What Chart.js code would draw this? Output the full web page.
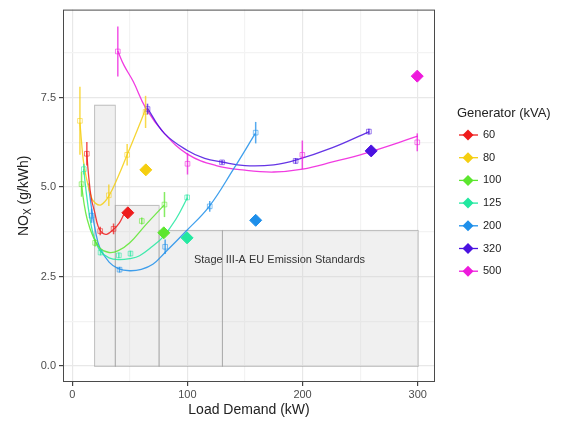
<!DOCTYPE html>
<html>
<head>
<meta charset="utf-8">
<script src="https://cdn.jsdelivr.net/npm/chart.js@4.4.1/dist/chart.umd.min.js"></script>
<style>
  html, body { margin: 0; padding: 0; background: #fff; }
</style>
</head>
<body>
<canvas id="nox-chart" width="570" height="421"></canvas>
<script>
// generators (kVA) and their colours
var generators = ["60", "80", "100", "125", "200", "320", "500"];
var colors = ["#EE1C1C", "#F5CE10", "#5CE62E", "#22E8A0", "#1E8FEA", "#4A12E0", "#EE1ADC"];

// measured points: load (kW), NOx (g/kWh), error half-width
var measLoad = [
  [12.7, 24.3, 35.9],
  [6.7, 31.8, 47.7, 63.7],
  [8.1, 19.9, 60.4, 80.1],
  [10.1, 24.6, 40.5, 50.6, 99.8],
  [16.8, 41.1, 80.7, 119.4, 159.3],
  [65.4, 130.1, 194, 257.6],
  [39.6, 100.1, 199.8, 299.6]
];
var measNox = [
  [5.93, 3.77, 3.83],
  [6.85, 4.77, 5.9, 7.1],
  [5.08, 3.44, 4.05, 4.51],
  [5.5, 3.17, 3.09, 3.14, 4.71],
  [4.2, 2.69, 3.33, 4.46, 6.52],
  [7.18, 5.69, 5.73, 6.55],
  [8.79, 5.65, 5.9, 6.25]
];
var measErr = [
  [0.33, 0.12, 0.15],
  [0.95, 0.3, 0.3, 0.45],
  [0.35, 0.1, 0.1, 0.35],
  [0.15, 0.08, 0.08, 0.08, 0.08],
  [0.2, 0.08, 0.2, 0.15, 0.3],
  [0.15, 0.06, 0.08, 0.08],
  [0.7, 0.3, 0.4, 0.25]
];

// fitted curves
var fitLoad = [
  [12.5, 14, 16.5, 19.5, 22.5, 26, 30, 36, 41, 45],
  [6.7, 8, 9.6, 12, 16.8, 20, 25, 31.8, 40, 47.7, 56, 64],
  [8, 10, 13, 17.9, 23.8, 32, 40, 50, 64, 80],
  [10, 12, 15, 19, 24.6, 32, 40, 50, 58.5, 70, 78.7, 90, 100],
  [14, 16.8, 20, 24, 32, 40, 50, 60, 70, 80, 99, 119, 140, 159],
  [65.4, 80, 100, 115, 130, 150, 175, 194, 226, 258],
  [39.6, 45, 53, 64, 80, 100, 125, 150, 175, 200, 226, 255, 300]
];
var fitNox = [
  [6.0, 5.4, 4.7, 4.3, 3.9, 3.72, 3.68, 3.82, 4.0, 4.25],
  [6.8, 6.3, 5.75, 5.3, 4.7, 4.55, 4.5, 4.75, 5.3, 5.9, 6.55, 7.2],
  [5.1, 4.6, 4.1, 3.63, 3.3, 3.17, 3.22, 3.44, 3.95, 4.5],
  [5.5, 4.9, 4.2, 3.6, 3.2, 3.02, 2.97, 3.0, 3.08, 3.35, 3.6, 4.1, 4.7],
  [5.1, 4.4, 3.8, 3.3, 2.9, 2.72, 2.66, 2.7, 2.84, 3.15, 3.77, 4.46, 5.5, 6.5],
  [7.2, 6.5, 6.02, 5.8, 5.7, 5.6, 5.62, 5.75, 6.1, 6.55],
  [8.8, 8.4, 7.95, 7.2, 6.5, 5.92, 5.6, 5.47, 5.42, 5.5, 5.7, 5.95, 6.42]
];

// rated-load points (filled diamonds)
var ratedLoad = [48.3, 63.9, 79.5, 99.7, 159.3, 259.6, 299.6];
var ratedNox = [4.28, 5.48, 3.72, 3.58, 4.07, 6.01, 8.1];

// Stage III-A limit boxes
var stdFrom = [19, 37, 75, 130];
var stdTo = [37, 75, 130, 300];
var stdLimit = [7.3, 4.5, 3.8, 3.8];
var stdLabel = "Stage III-A EU Emission Standards";

// axis ticks
var xGrid = [0, 50, 100, 150, 200, 250, 300];
var xLabels = [0, 100, 200, 300];
var yGrid = [0, 1.25, 2.5, 3.75, 5, 6.25, 7.5, 8.75];
var yLabels = [0, 2.5, 5, 7.5];

var FONT = "'Liberation Sans', Arial, sans-serif";

function fade(hex, a) {
  var n = parseInt(hex.slice(1), 16);
  return "rgba(" + (n >> 16) + "," + ((n >> 8) & 255) + "," + (n & 255) + "," + a + ")";
}

function zip(xs, ys) {
  return xs.map(function (x, i) { return { x: x, y: ys[i] }; });
}

var datasets = [];
generators.forEach(function (g, i) {
  datasets.push({
    type: "scatter",
    label: g,
    data: [{ x: ratedLoad[i], y: ratedNox[i] }],
    pointStyle: "rectRot",
    pointRadius: 6,
    backgroundColor: colors[i],
    borderColor: colors[i],
    borderWidth: 1,
    order: 0
  });
  datasets.push({
    type: "scatter",
    label: g + " measured",
    data: zip(measLoad[i], measNox[i]),
    pointStyle: "rect",
    pointRadius: 3.3,
    backgroundColor: "rgba(255,255,255,0)",
    borderColor: fade(colors[i], 0.55),
    borderWidth: 1,
    order: 1
  });
  datasets.push({
    type: "line",
    label: g + " fit",
    data: zip(fitLoad[i], fitNox[i]),
    borderColor: fade(colors[i], 0.85),
    borderWidth: 1.3,
    pointRadius: 0,
    tension: 0.4,
    fill: false,
    order: 2
  });
});

var standards = {
  id: "standards",
  beforeDatasetsDraw: function (chart) {
    var xs = chart.scales.x, ys = chart.scales.y, ctx = chart.ctx;
    ctx.save();
    ctx.fillStyle = "rgba(205,205,205,0.3)";
    ctx.strokeStyle = "rgba(150,150,150,0.55)";
    ctx.lineWidth = 1;
    stdLimit.forEach(function (lim, i) {
      var x0 = xs.getPixelForValue(stdFrom[i]), x1 = xs.getPixelForValue(stdTo[i]);
      var y0 = ys.getPixelForValue(0), y1 = ys.getPixelForValue(lim);
      ctx.fillRect(x0, y1, x1 - x0, y0 - y1);
      ctx.strokeRect(x0 + 0.5, y1 + 0.5, x1 - x0, y0 - y1);
    });
    ctx.fillStyle = "#333";
    ctx.font = "11px " + FONT;
    ctx.textAlign = "center";
    ctx.textBaseline = "middle";
    ctx.fillText(stdLabel, xs.getPixelForValue(180), ys.getPixelForValue(2.97));
    ctx.restore();
  }
};

var errorBars = {
  id: "errorBars",
  afterDatasetsDraw: function (chart) {
    var xs = chart.scales.x, ys = chart.scales.y, ctx = chart.ctx;
    ctx.save();
    ctx.lineWidth = 1.5;
    generators.forEach(function (g, i) {
      ctx.strokeStyle = fade(colors[i], 0.75);
      measLoad[i].forEach(function (x, j) {
        var px = xs.getPixelForValue(x);
        ctx.beginPath();
        ctx.moveTo(px, ys.getPixelForValue(measNox[i][j] - measErr[i][j]));
        ctx.lineTo(px, ys.getPixelForValue(measNox[i][j] + measErr[i][j]));
        ctx.stroke();
      });
    });
    // panel border
    var a = chart.chartArea;
    ctx.strokeStyle = "#4a4a4a";
    ctx.lineWidth = 1;
    ctx.strokeRect(a.left + 0.5, a.top + 0.5, a.right - a.left - 1, a.bottom - a.top - 1);
    ctx.restore();
  }
};

var frame = {
  id: "frame",
  afterDraw: function (chart) {
    var ctx = chart.ctx, a = chart.chartArea;
    ctx.save();
    ctx.fillStyle = "#222";
    // x title
    ctx.font = "14px " + FONT;
    ctx.textAlign = "center";
    ctx.textBaseline = "middle";
    ctx.fillText("Load Demand (kW)", (a.left + a.right) / 2, 410);
    // y title with subscript
    ctx.translate(24, (a.top + a.bottom) / 2);
    ctx.rotate(-Math.PI / 2);
    var t1 = "NO", t2 = "X", t3 = " (g/kWh)";
    ctx.font = "14px " + FONT;
    var w1 = ctx.measureText(t1).width, w3 = ctx.measureText(t3).width;
    ctx.font = "10px " + FONT;
    var w2 = ctx.measureText(t2).width;
    var sx = -(w1 + w2 + w3) / 2;
    ctx.textAlign = "left";
    ctx.font = "14px " + FONT;
    ctx.fillText(t1, sx, 0);
    ctx.font = "10px " + FONT;
    ctx.fillText(t2, sx + w1, 4);
    ctx.font = "14px " + FONT;
    ctx.fillText(t3, sx + w1 + w2, 0);
    ctx.restore();

    // legend
    ctx.save();
    ctx.fillStyle = "#222";
    ctx.font = "13px " + FONT;
    ctx.textAlign = "left";
    ctx.textBaseline = "middle";
    ctx.fillText("Generator (kVA)", 457, 113);
    ctx.font = "11px " + FONT;
    generators.forEach(function (g, i) {
      var y = 135 + i * 22.7, cx = 468;
      ctx.strokeStyle = colors[i];
      ctx.lineWidth = 1.3;
      ctx.beginPath();
      ctx.moveTo(459, y);
      ctx.lineTo(478, y);
      ctx.stroke();
      ctx.fillStyle = colors[i];
      ctx.beginPath();
      ctx.moveTo(cx, y - 5.5);
      ctx.lineTo(cx + 5.5, y);
      ctx.lineTo(cx, y + 5.5);
      ctx.lineTo(cx - 5.5, y);
      ctx.closePath();
      ctx.fill();
      ctx.fillStyle = "#222";
      ctx.fillText(g, 483, y);
    });
    ctx.restore();
  }
};

function gridColor(list) {
  return function (c) { return list.indexOf(c.tick.value) >= 0 ? "#e8e8e8" : "#f3f3f3"; };
}
function tickColor(list) {
  return function (c) { return list.indexOf(c.tick.value) >= 0 ? "#444" : "rgba(0,0,0,0)"; };
}

new Chart(document.getElementById("nox-chart"), {
  data: { datasets: datasets },
  options: {
    responsive: false,
    animation: false,
    layout: { padding: { top: 7, right: 135, left: 0, bottom: 0 } },
    plugins: { legend: { display: false }, tooltip: { enabled: false } },
    scales: {
      x: {
        type: "linear",
        min: -8,
        max: 315,
        afterBuildTicks: function (axis) { axis.ticks = xGrid.map(function (v) { return { value: v }; }); },
        afterFit: function (axis) { axis.height = 39; },
        border: { display: false },
        grid: { color: gridColor(xLabels), tickColor: tickColor(xLabels), tickLength: 4, lineWidth: 1.2 },
        ticks: {
          autoSkip: false,
          maxRotation: 0,
          padding: 2,
          color: "#4d4d4d",
          font: { size: 11, family: FONT },
          callback: function (v) { return xLabels.indexOf(v) >= 0 ? String(v) : ""; }
        }
      },
      y: {
        type: "linear",
        min: -0.45,
        max: 9.96,
        afterBuildTicks: function (axis) { axis.ticks = yGrid.map(function (v) { return { value: v }; }); },
        afterFit: function (axis) { axis.width = 63; },
        border: { display: false },
        grid: { color: gridColor(yLabels), tickColor: tickColor(yLabels), tickLength: 4, lineWidth: 1.2 },
        ticks: {
          autoSkip: false,
          padding: 3,
          color: "#4d4d4d",
          font: { size: 11, family: FONT },
          callback: function (v) { return yLabels.indexOf(v) >= 0 ? v.toFixed(1) : ""; }
        }
      }
    }
  },
  plugins: [standards, errorBars, frame]
});
</script>
</body>
</html>
